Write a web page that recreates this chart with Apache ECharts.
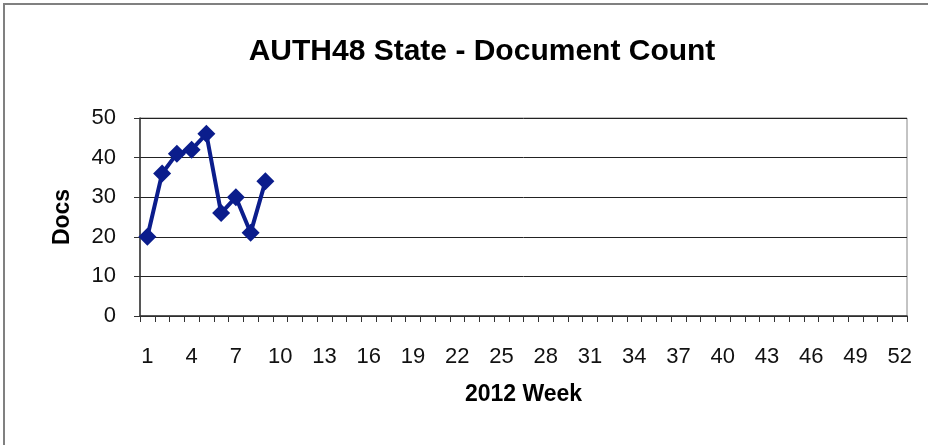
<!DOCTYPE html>
<html>
<head>
<meta charset="utf-8">
<style>
    html, body { margin: 0; padding: 0; background: #fff; }
    #chart { width: 928px; height: 445px; }
</style>
</head>
<body>
<div id="chart"></div>
<script src="https://cdn.jsdelivr.net/npm/echarts@6/dist/echarts.min.js"></script>
<script>
    // weeks 1..52 of 2012
    var weeks = [];
    for (var w = 1; w <= 52; w++) weeks.push(String(w));
    // doc counts, only first 9 weeks have data
    var docCounts = [20, 36, 41, 42, 46, 26, 30, 21, 34];
    var yTicks = [0, 10, 20, 30, 40, 50];

    var myChart = echarts.init(document.getElementById('chart'));
    var option = {
        animation: false,
        textStyle: { fontFamily: 'Liberation Sans, Arial, sans-serif' },
        graphic: [{
            type: 'rect',
            shape: { x: 4, y: 4, width: 1000, height: 1000 },
            style: { fill: 'none', stroke: '#808080', lineWidth: 2 },
            silent: true
        }],
        title: {
            text: 'AUTH48 State - Document Count',
            left: 477,
            top: 32,
            textAlign: 'center',
            textStyle: { fontSize: 30, fontWeight: 'bold', color: '#000' }
        },
        grid: {
            left: 140,
            right: 21,
            top: 118,
            bottom: 129,
            show: true,
            borderColor: '#888',
            borderWidth: 1
        },
        xAxis: {
            type: 'category',
            data: weeks,
            boundaryGap: true,
            name: '2012 Week',
            nameLocation: 'middle',
            nameGap: 67,
            nameTextStyle: { fontSize: 23, fontWeight: 'bold', color: '#000' },
            axisLine: { lineStyle: { color: '#333', width: 1.5 } },
            axisTick: { show: true, interval: 0, length: 6, lineStyle: { color: '#333', width: 1 } },
            axisLabel: { interval: 2, fontSize: 22, color: '#111', margin: 30 }
        },
        yAxis: {
            type: 'value',
            min: yTicks[0],
            max: yTicks[yTicks.length - 1],
            interval: 10,
            name: 'Docs',
            nameLocation: 'middle',
            nameGap: 66,
            nameTextStyle: { fontSize: 23, fontWeight: 'bold', color: '#000' },
            axisLine: { show: true, lineStyle: { color: '#333', width: 1.5 } },
            axisTick: { show: true, length: 6, lineStyle: { color: '#333', width: 1 } },
            axisLabel: { fontSize: 22, color: '#111', margin: 24 },
            splitLine: { lineStyle: { color: '#222', width: 1 } }
        },
        series: [{
            type: 'line',
            data: docCounts,
            symbol: 'diamond',
            symbolSize: 18,
            showAllSymbol: true,
            lineStyle: { color: '#0b1d8c', width: 4 },
            itemStyle: { color: '#0b1d8c' }
        }]
    };
    myChart.setOption(option);
</script>
</body>
</html>
